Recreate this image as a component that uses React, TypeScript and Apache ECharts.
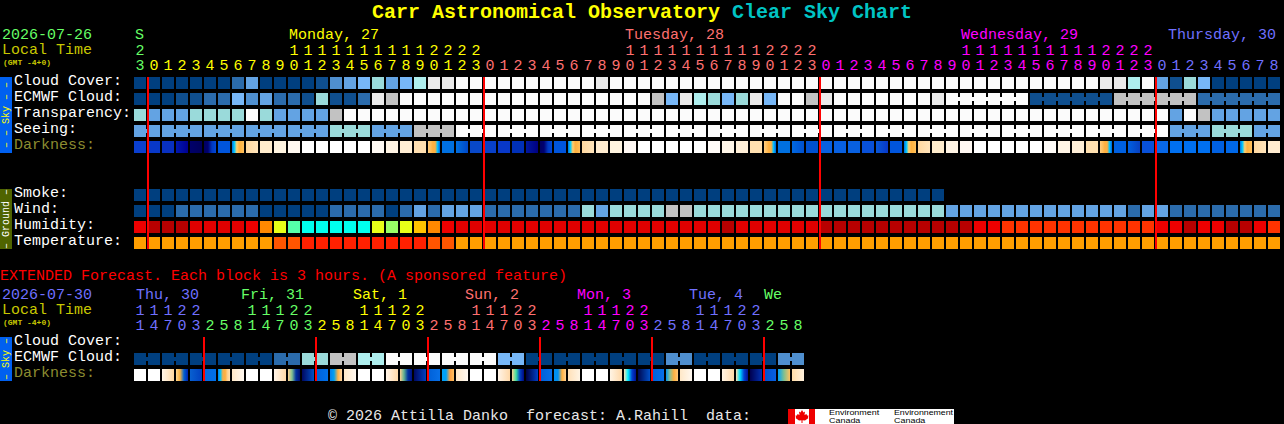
import React, { useEffect, useRef } from "react";
import * as echarts from "echarts";

// ---------- data ----------
const skyPalette = ["#003f7f", "#0f4f8f", "#2b6bab", "#4f8fcf", "#63a3e3", "#77b7f7", "#9adada", "#aeeeee", "#c2c2c2", "#eaeaea", "#fbfbfb"];
const humidityPalette = ["#b80000", "#e00000", "#ee0000", "#ff3300", "#ff8800", "#ffc400", "#e8ff18", "#99ff66", "#55ffaa", "#00ffee"];
const temperaturePalette = ["#ff9e00", "#ff5500", "#ff2000"];

const cloudCover = [0, 0, 0, 0, 0, 0, 0, 2, 4, 0, 0, 0, 0, 1, 3, 4, 5, 6, 4, 5, 7, 9, 9,
  10, 10, 10, 10, 10, 10, 10, 10, 10, 10, 9,
  10, 10, 10, 10, 10, 10, 10, 10, 10, 10, 10, 10, 10, 10, 10, 10, 10, 10, 10, 10, 10, 10, 10, 10, 10, 10, 10, 10, 10, 10, 10, 10, 10, 10, 10,
  9, 9, 7, 10, 4, 1, 6, 5, 0, 0, 0, 0, 0];
const ecmwfCloud = [0, 0, 0, 1, 1, 2, 2, 5, 3, 4, 2, 2, 1, 6, 1, 1, 2, 9, 8, 10, 10,
  10, 10, 10, 10, 10, 10, 10, 10, 10, 10, 10, 10, 10, 10, 10, 10,
  8, 5, 9, 7, 6, 5, 6, 9, 5, 10, 10, 8, 9,
  10, 10, 10, 10, 10, 10, 10, 9,
  10, 10, 10, 10, 10, 10, 1, 1, 1, 1, 1, 1, 8, 8, 8, 8, 8, 8, 2, 2, 2, 2, 2, 2];
const transparency = [6, 4, 4, 4, 6, 6, 6, 6, 10, 6, 4, 4, 4, 4, 8,
  10, 10, 10, 10, 10, 10, 10, 10, 10, 10, 10, 10, 10, 10, 10, 10, 10, 10, 10, 10, 10, 10, 10, 10, 10, 10, 10, 10, 10, 10,
  10, 10, 10, 10, 10, 10, 10, 10, 10, 10, 10, 10, 10, 10, 10, 10, 10, 10, 10, 10, 10, 10, 10, 10, 10, 10, 10, 10, 10,
  4, 10, 8, 4, 4, 4, 4, 4];
const seeing = [4, 4, 4, 4, 4, 4, 4, 4, 4, 4, 4, 4, 4, 4, 6, 6, 6, 4, 4, 4, 8, 8, 8,
  10, 10, 10, 10, 10, 10, 10, 10, 10, 10, 10, 10, 10, 10, 10, 10, 10, 10, 10, 10, 10, 10, 10, 10, 10, 10, 10, 10, 10, 10, 10, 10, 10,
  10, 10, 10, 10, 10, 10, 10, 10, 10, 10, 10, 10, 10, 10, 10, 10, 10, 10,
  4, 4, 4, 6, 6, 6, 4, 4];
const darkness = [
  "#0a3fd0", "#0838c8", "#0830c0", "#0018b0|#000090", "#00006a|#00005a", "#000060|#000070|#0038c0|#0048d8", "#0055dd",
  "#0070e0|#00c8ff|#ffd070|#ffb040|#ffb848|#ffc060", "#ffd8a0|#ffe4bb", "#ffeccc", "#fff4e0", "#fff9f0",
  "#ffffff", "#ffffff", "#ffffff", "#ffffff", "#ffffff", "#fffaf4", "#fff4e4", "#ffeed4", "#ffdfb0",
  "#ffcc80|#ffc060|#ffb040|#ffb040|#00c0ff|#0060e0", "#0070e0", "#0070e0|#0048c8", "#0848c8", "#0840c8", "#0838c8", "#0030b8", "#0018a0|#000080",
  "#000060|#000070|#0038c0|#0048d8", "#0055dd", "#0070e0|#00c8ff|#ffd070|#ffb040|#ffb848|#ffc060", "#ffd8a0|#ffe4bb", "#ffecd0", "#fff4e0", "#fff9f4",
  "#ffffff", "#ffffff", "#ffffff", "#ffffff", "#ffffff", "#fffbf8", "#fff6e8", "#ffefd8", "#ffe0b0",
  "#ffcc80|#ffc060|#ffb040|#ffb040|#00c0ff|#0060e0", "#0070e0", "#0068e0|#0050d0", "#0050d0", "#0860e0", "#0860e0", "#0860e0", "#0850d8", "#0858d8|#0838c8", "#0055dd",
  "#0070e0|#00c8ff|#ffd070|#ffb040|#ffb848|#ffc060", "#ffd8a0|#ffe4bb", "#ffeccc", "#fff4e4", "#fff8f2",
  "#ffffff", "#ffffff", "#ffffff", "#ffffff", "#ffffff", "#fffcf8", "#fff5e6", "#ffefd8", "#ffe0b0",
  "#ffcc80|#ffc060|#ffb040|#ffb040|#00c0ff|#0060e0", "#0060e0", "#0060e0|#0840c0", "#0850d8", "#0868e8", "#0070f0", "#0070f0", "#0070f0", "#0060e0", "#0068e8",
  "#0070e0|#00c8ff|#ffd070|#ffb040|#ffb848|#ffc060", "#ffd8a0|#ffe4bb", "#ffecd0",
];
const smoke = [0, 0, 0, 0, 0, 0, 0, 0, 0, 0, 0, 0, 0, 0, 0, 0, 0, 0, 0, 0, 0, 0, 0, 0, 0, 0, 0, 0, 0,
  0, 0, 0, 0, 0, 0, 0, 0, 0, 0, 0, 0, 0, 0, 0, 0, 0, 0, 0, 0, 0, 0, 0, 0, 0, 0, 0, 0, 0];
const wind = [0, 0, 0, 2, 2, 2, 2, 2, 2, 0, 0, 0, 0, 0, 2, 2, 2, 2, 0, 2, 4, 2, 4, 4, 4,
  2, 2, 2, 2, 2, 2, 2, 6, 4, 6, 6, 6, 6, 8, 8,
  6, 6, 6, 6, 6, 6, 6, 6, 6, 6, 6, 6, 6, 6, 6, 6, 6, 6,
  4, 4, 4, 4, 4, 4, 4, 4, 4, 4, 4, 4, 4, 2, 4, 4, 2, 2, 2, 2, 2, 2, 2, 2];
const humidity = [2, 0, 0, 0, 1, 1, 1, 1, 2, 4, 6, 8, 9, 9, 9, 9, 9, 6, 7, 6, 5, 4, 2,
  1, 1, 1, 1, 1, 1, 1, 1, 1, 1, 1, 1, 1, 1, 1, 1, 1, 1, 1, 0, 1, 1, 1, 1, 1, 1,
  0, 0, 0, 0, 0, 0, 0, 0, 0, 0, 0, 2, 2, 3, 3, 3, 3, 3, 3, 3, 3, 3, 3, 3, 2, 2, 0, 2, 2, 0, 0, 2, 3];
const temperature = [0, 0, 0, 0, 0, 0, 0, 0, 0, 0, 1, 1, 2, 2, 2, 2, 2, 2, 2, 2, 2, 1, 1,
  0, 0, 0, 0, 0, 0, 0, 0, 0, 0, 0, 0, 0, 0, 0, 0, 0, 0, 0, 0, 0, 0, 0, 0, 0, 0, 0, 0, 0, 0, 0, 0, 0, 0, 0, 0,
  0, 0, 0, 0, 0, 0, 0, 0, 0, 0, 0, 0, 0, 0, 0, 0, 0, 0, 0, 0, 0, 0, 0];

const hourUnits = ["3", "0", "1", "2", "3", "4", "5", "6", "7", "8", "9", "0", "1", "2", "3", "4", "5", "6", "7", "8", "9", "0", "1", "2", "3",
  "0", "1", "2", "3", "4", "5", "6", "7", "8", "9", "0", "1", "2", "3", "4", "5", "6", "7", "8", "9", "0", "1", "2", "3",
  "0", "1", "2", "3", "4", "5", "6", "7", "8", "9", "0", "1", "2", "3", "4", "5", "6", "7", "8", "9", "0", "1", "2", "3",
  "0", "1", "2", "3", "4", "5", "6", "7", "8"];
const hourTens = ["2", "", "", "", "", "", "", "", "", "", "", "1", "1", "1", "1", "1", "1", "1", "1", "1", "1", "2", "2", "2", "2",
  "", "", "", "", "", "", "", "", "", "", "1", "1", "1", "1", "1", "1", "1", "1", "1", "1", "2", "2", "2", "2",
  "", "", "", "", "", "", "", "", "", "", "1", "1", "1", "1", "1", "1", "1", "1", "1", "1", "2", "2", "2", "2",
  "", "", "", "", "", "", "", "", ""];
const rowNames = ["Cloud Cover:", "ECMWF Cloud:", "Transparency:", "Seeing:", "Darkness:", "", "", "Smoke:", "Wind:", "Humidity:", "Temperature:"];
const midnightCells = [1, 25, 49, 73];
const dayNames = ["S", "Monday, 27", "Tuesday, 28", "Wednesday, 29", "Thursday, 30"];

// extended forecast (3-hour blocks)
const extUnits = ["1", "4", "7", "0", "3", "2", "5", "8", "1", "4", "7", "0", "3", "2", "5", "8", "1", "4", "7", "0", "3", "2", "5", "8",
  "1", "4", "7", "0", "3", "2", "5", "8", "1", "4", "7", "0", "3", "2", "5", "8", "1", "4", "7", "0", "3", "2", "5", "8"];
const extTens = ["1", "1", "1", "2", "2", "", "", "", "1", "1", "1", "2", "2", "", "", "", "1", "1", "1", "2", "2", "", "", "",
  "1", "1", "1", "2", "2", "", "", "", "1", "1", "1", "2", "2", "", "", "", "1", "1", "1", "2", "2", "", "", ""];
const extRowNames = ["Cloud Cover:", "ECMWF Cloud:", "Darkness:"];
const extEcmwf = [0, 0, 0, 0, 0, 0, 0, 0, 0, 0, 2, 2, 6, 6, 8, 8, 7, 7, 10, 10, 10, 10, 10, 10, 10, 10, 5, 5,
  0, 0, 0, 0, 0, 0, 0, 0, 0, 0, 3, 3, 0, 0, 0, 0, 0, 0, 3, 3];
const extDarkness = [
  "#ffffff", "#ffffff", "#fff6e8|#ffe8c8|#ffd8a0", "#ffd890|#f8b040|#0060d0|#0020b0", "#0860d0|#0040c0", "#0868e0|#0070e8",
  "#0080f0|#00c0ff|#f0b050|#ffb040|#ffd090|#ffe0b0", "#ffe8c8|#fff8f0", "#ffffff", "#ffffff", "#fff4e8|#ffd8a8", "#ffd090|#80c090|#0030a0|#001070",
  "#000860|#0050c8", "#0060d8|#0070e8", "#0080f0|#00a0f0|#ffb040|#ffd8a8", "#ffe8c8|#fff8f0", "#ffffff", "#ffffff", "#fff4e8|#ffd8a8", "#ffd090|#60b090|#0030a0|#001080",
  "#000860|#0040c0", "#0060d8|#0870e8", "#00a0f8|#00a0f8|#ffa040|#ffc060", "#ffe8c8|#fff8f0", "#ffffff", "#ffffff", "#fff4e8|#ffd8a8", "#ffd090|#40e0a0|#0040c0|#000880",
  "#000040|#0040c8", "#0060d8|#0870e8", "#0090f0|#0090f0|#ffb040|#ffd090", "#ffe0b8|#fff4e4", "#ffffff", "#ffffff", "#fff4e4|#ffd8a8", "#ffe0b0|#00f0ff|#0040d0|#001090",
  "#000850|#0050c8", "#0060d8|#0870e8", "#0098f0|#90c090|#ffb040|#ffc878", "#ffe8c8|#fff8f0", "#ffffff", "#ffffff", "#fff4e4|#ffd8a8", "#ffe0b0|#00e0ff|#0040d0|#001090",
  "#000050|#0030b0", "#0050d0|#0860e0", "#00a0f8|#80c090|#ffc060", "#ffdca8|#fff0dc",
];
const extMidnightCells = [5, 13, 21, 29, 37, 45];
const extDayNames = ["Thu, 30", "Fri, 31", "Sat, 1", "Sun, 2", "Mon, 3", "Tue, 4", "We"];

// ---------- styling / layout ----------
const MONO = '"Liberation Mono", monospace';
const GREEN = "#66ff66", YELLOW = "#ffff00", SALMON = "#ff7070", MAGENTA = "#ff00ff", BLUE = "#7070ff";
const OLIVE = "#c8c800", DIM = "#8c8c30", RED = "#ff0000";
const dayColors = [GREEN, YELLOW, SALMON, MAGENTA, BLUE];
const dayLeft = [135, 289, 625, 961, 1168];
const extDayColors = [BLUE, GREEN, YELLOW, SALMON, MAGENTA, BLUE, GREEN];
const extDayLeft = [136, 241, 353, 465, 577, 689, 764];

const hourColor = (i: number) => (i < 1 ? GREEN : i < 25 ? YELLOW : i < 49 ? SALMON : i < 73 ? MAGENTA : BLUE);
const extColor = (j: number) => (j < 5 ? BLUE : j < 13 ? GREEN : j < 21 ? YELLOW : j < 29 ? SALMON : j < 37 ? MAGENTA : j < 45 ? BLUE : GREEN);

type Cell = { i: number; row: number; fill: string; link: boolean };

function fillOf(code: string): any {
  const parts = code.split("|");
  if (parts.length === 1) return code;
  return new echarts.graphic.LinearGradient(0, 0, 1, 0, parts.map((color, k) => ({ offset: k / (parts.length - 1), color })));
}
function cellsFrom(values: any[], row: number, colorOf: (v: any) => string, linked: (i: number) => boolean = () => false): Cell[] {
  return values.map((v, i) => ({ i, row, fill: colorOf(v), link: linked(i) && i + 1 < values.length && values[i + 1] === v }));
}
const sky = (v: number) => skyPalette[v];

const topCells: Cell[] = [
  ...cellsFrom(cloudCover, 0, sky),
  ...cellsFrom(ecmwfCloud, 1, sky, (i) => i >= 58 && (i - 58) % 6 !== 5),
  ...cellsFrom(transparency, 2, sky),
  ...cellsFrom(seeing, 3, sky, (i) => (i + 1) % 3 !== 2),
  ...cellsFrom(darkness, 4, (v) => v),
  ...cellsFrom(smoke, 7, sky),
  ...cellsFrom(wind, 8, sky),
  ...cellsFrom(humidity, 9, (v) => humidityPalette[v]),
  ...cellsFrom(temperature, 10, (v) => temperaturePalette[v]),
];
const extCells: Cell[] = [
  ...cellsFrom(extEcmwf, 1, sky, (j) => j % 2 === 0),
  ...cellsFrom(extDarkness, 2, (v) => v),
];

function cellRenderer(cells: Cell[]) {
  return (params: any, api: any) => {
    const c = cells[params.dataIndex];
    const [cx, cy] = api.coord([c.i, c.row]);
    const band = api.size([1, 1]);
    const w = band[0] - 2, h = band[1] - 4;
    const children: any[] = [
      { type: "rect", shape: { x: cx - w / 2, y: cy - h / 2, width: w, height: h }, style: { fill: fillOf(c.fill) } },
    ];
    if (c.link) children.push({ type: "rect", shape: { x: cx + w / 2, y: cy - 2, width: 2, height: 4 }, style: { fill: fillOf(c.fill) } });
    return { type: "group", children };
  };
}
function lineRenderer(lastRow: number) {
  return (_params: any, api: any) => {
    const cellIndex = api.value(0);
    const [cx, cy0] = api.coord([cellIndex, 0]);
    const cy1 = api.coord([cellIndex, lastRow])[1];
    return { type: "rect", shape: { x: cx - 7, y: cy0 - 6, width: 2, height: cy1 - cy0 + 12 }, style: { fill: RED } };
  };
}

function xAxes(gridIndex: number, units: string[], tens: string[], color: (i: number) => string) {
  const base = {
    gridIndex, type: "category", position: "top", boundaryGap: true,
    axisLine: { show: false }, axisTick: { show: false }, splitLine: { show: false },
  };
  const label = (c: any) => ({ show: true, interval: 0, hideOverlap: false, margin: 1, fontFamily: MONO, fontSize: 15, color: c });
  return [
    { ...base, data: units, axisLabel: label((_v: string, i: number) => color(i)) },
    { ...base, data: tens, offset: 15, axisLabel: label((_v: string, i: number) => color(i)) },
  ];
}
function yAxis(gridIndex: number, names: string[]) {
  return {
    gridIndex, type: "category", inverse: true, data: names,
    axisLine: { show: false }, axisTick: { show: false }, splitLine: { show: false },
    axisLabel: {
      show: true, interval: 0, align: "left", margin: 119, fontFamily: MONO, fontSize: 15,
      verticalAlign: "bottom", lineHeight: 3,
      color: (v: string) => (v === "Darkness:" ? DIM : "#ffffff"),
    },
  };
}

function txt(x: number, y: number, text: string, fill: string, font = `15px ${MONO}`, scaleX = 1) {
  return { type: "text", x, y, scaleX, silent: true, style: { text, fill, font, align: "left", verticalAlign: "middle" } };
}
function bar(y: number, h: number, fill: string, text: string, textFill: string) {
  return [
    { type: "rect", shape: { x: 0, y, width: 12, height: h }, style: { fill } },
    {
      type: "text", x: 6, y: y + h / 2, rotation: Math.PI / 2, silent: true,
      style: { text, fill: textFill, font: `10px ${MONO}`, align: "center", verticalAlign: "middle" },
    },
  ];
}

const leafPoints = [
  [802, 410], [803.5, 412.5], [805, 411.5], [804.5, 415], [806.5, 414], [807, 415.5], [808.5, 415.5], [808, 417.5], [808.5, 418],
  [805, 420.5], [802.5, 420.2], [802.5, 423], [801.5, 423], [801.5, 420.2], [799, 420.5], [795.5, 418], [796, 417.5], [795.5, 415.5], [797, 415.5],
  [797.5, 414], [799.5, 415], [799, 411.5], [800.5, 412.5],
];
const LOGO_FONT = `8px "Liberation Sans", sans-serif`;

const graphics: any[] = [
  ...bar(77, 76, "#0060f0", "– – Sky – –", YELLOW),
  ...bar(189, 60, "#4f6400", "– Ground –", "#ffffff"),
  ...bar(337, 44, "#0060f0", "– Sky –", YELLOW),
  txt(2, 35, "2026-07-26", GREEN),
  txt(2, 50, "Local Time", OLIVE),
  txt(3, 62, "(GMT -4+0)", OLIVE, `bold 8px ${MONO}`),
  ...dayNames.map((d, k) => txt(dayLeft[k], 35, d, dayColors[k])),
  txt(0, 276, "EXTENDED Forecast. Each block is 3 hours. (A sponsored feature)", RED),
  txt(2, 295, "2026-07-30", BLUE),
  txt(2, 310, "Local Time", OLIVE),
  txt(3, 322, "(GMT -4+0)", OLIVE, `bold 8px ${MONO}`),
  ...extDayNames.map((d, k) => txt(extDayLeft[k], 295, d, extDayColors[k])),
  txt(328, 416, "© 2026 Attilla Danko  forecast: A.Rahill  data:", "#e8e8e8"),
  { type: "rect", shape: { x: 788, y: 409, width: 166, height: 15 }, style: { fill: "#ffffff" } },
  { type: "rect", shape: { x: 788, y: 409, width: 7, height: 15 }, style: { fill: "#ee0000" } },
  { type: "rect", shape: { x: 809, y: 409, width: 6, height: 15 }, style: { fill: "#ee0000" } },
  { type: "polygon", shape: { points: leafPoints }, style: { fill: "#ee0000" } },
  txt(829, 412.5, "Environment", "#000000", LOGO_FONT, 1.12),
  txt(829, 420.5, "Canada", "#000000", LOGO_FONT, 1.12),
  txt(894, 412.5, "Environnement", "#000000", LOGO_FONT, 1.1),
  txt(894, 420.5, "Canada", "#000000", LOGO_FONT, 1.12),
];

const option: any = {
  animation: false,
  backgroundColor: "#000000",
  title: {
    left: 372, top: 2, padding: 0,
    text: "{a|Carr Astronomical Observatory }{b|Clear Sky Chart}",
    textStyle: {
      rich: {
        a: { fontFamily: MONO, fontWeight: "bold", fontSize: 20, color: "#ffff00" },
        b: { fontFamily: MONO, fontWeight: "bold", fontSize: 20, color: "#00c4c4" },
      },
    },
  },
  grid: [
    { left: 133, top: 75, width: 1148, height: 176, containLabel: false },
    { left: 133, top: 335, width: 672, height: 48, containLabel: false },
  ],
  xAxis: [...xAxes(0, hourUnits, hourTens, hourColor), ...xAxes(1, extUnits, extTens, extColor)],
  yAxis: [yAxis(0, rowNames), yAxis(1, extRowNames)],
  series: [
    {
      type: "custom", xAxisIndex: 0, yAxisIndex: 0, silent: true, clip: false,
      data: topCells.map((c) => [c.i, c.row]), renderItem: cellRenderer(topCells),
    },
    {
      type: "custom", xAxisIndex: 0, yAxisIndex: 0, silent: true, clip: false, z: 5,
      data: midnightCells.map((i) => [i]), renderItem: lineRenderer(10),
    },
    {
      type: "custom", xAxisIndex: 2, yAxisIndex: 1, silent: true, clip: false,
      data: extCells.map((c) => [c.i, c.row]), renderItem: cellRenderer(extCells),
    },
    {
      type: "custom", xAxisIndex: 2, yAxisIndex: 1, silent: true, clip: false, z: 5,
      data: extMidnightCells.map((i) => [i]), renderItem: lineRenderer(2),
    },
  ],
  graphic: { elements: graphics },
};

export default function App() {
  const ref = useRef<HTMLDivElement>(null);
  useEffect(() => {
    document.body.style.margin = "0";
    document.body.style.background = "#000";
    const chart = echarts.init(ref.current!, undefined, { renderer: "svg" });
    chart.setOption(option);
    return () => chart.dispose();
  }, []);
  return <div ref={ref} style={{ width: 1284, height: 424 }} />;
}
